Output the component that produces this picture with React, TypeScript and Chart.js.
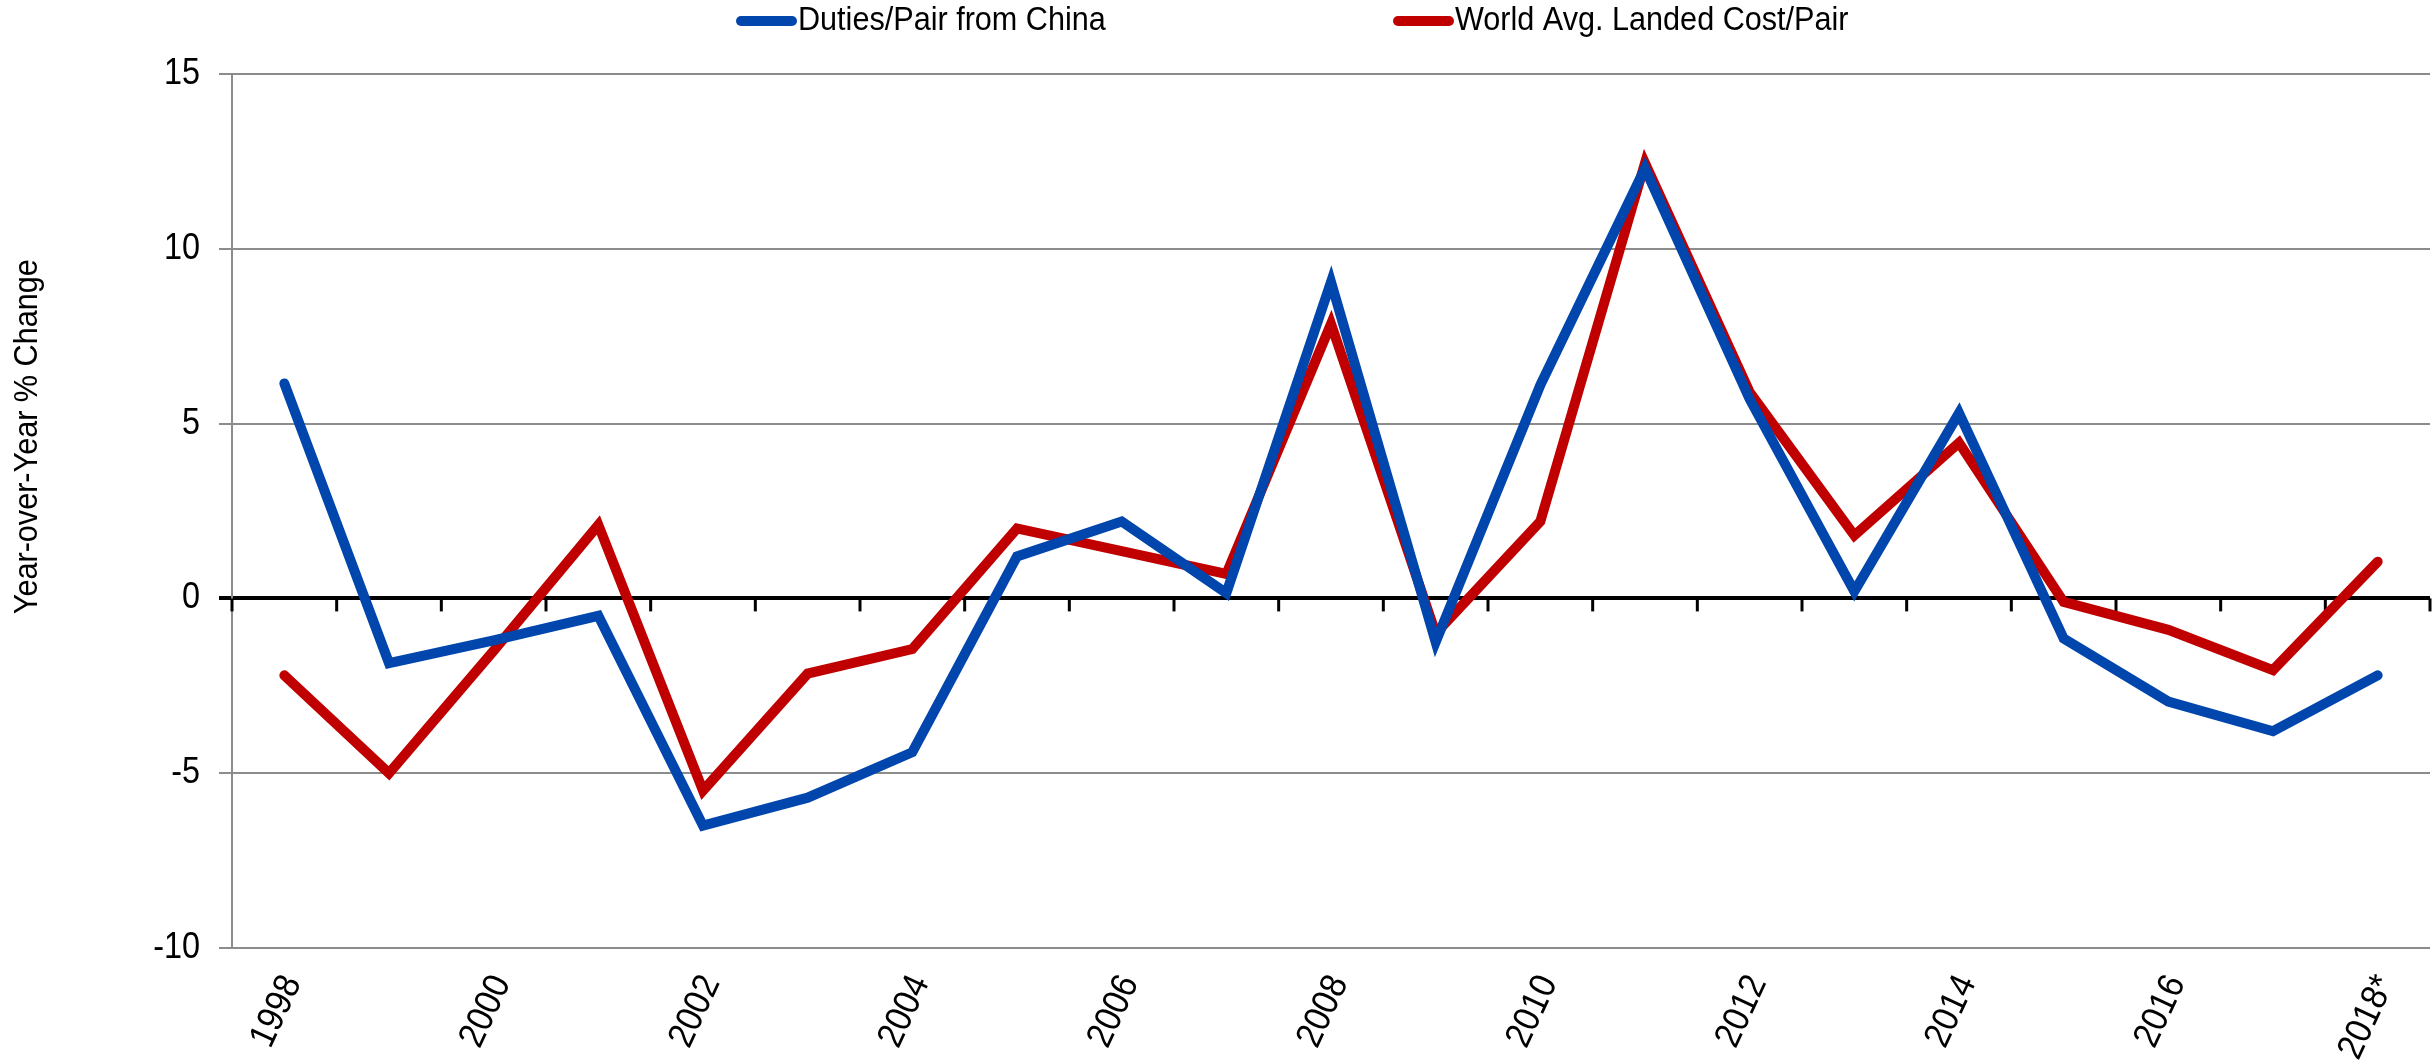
import React, { useEffect, useRef } from 'react';
import { Chart, registerables } from 'chart.js';

Chart.register(...registerables);

const years = ['1998', '1999', '2000', '2001', '2002', '2003', '2004', '2005', '2006', '2007', '2008', '2009', '2010', '2011', '2012', '2013', '2014', '2015', '2016', '2017', '2018*'];
const dutiesChina = [6.15, -1.85, -1.2, -0.5, -6.5, -5.7, -4.4, 1.2, 2.2, 0.15, 9.05, -1.25, 6.1, 12.3, 5.7, 0.2, 5.3, -1.15, -2.95, -3.8, -2.2];
const worldLanded = [-2.2, -5.0, -1.5, 2.1, -5.5, -2.15, -1.45, 2.0, 1.35, 0.7, 7.85, -1.0, 2.2, 12.45, 5.9, 1.8, 4.45, -0.1, -0.9, -2.05, 1.05];
const yTicks = [-10, -5, 0, 5, 10, 15];
const seriesNames = ['Duties/Pair from China', 'World Avg. Landed Cost/Pair'];
const seriesColors = ['#0046AD', '#C00000'];
const yTitle = 'Year-over-Year % Change';

const FONT = "'Liberation Sans', Arial, Helvetica, sans-serif";
const SQUEEZE = 0.9;

function drawText(ctx: CanvasRenderingContext2D, text: string, x: number, y: number, size: number, align: CanvasTextAlign, baseline: CanvasTextBaseline, angle: number) {
  ctx.save();
  ctx.translate(x, y);
  ctx.rotate(angle);
  ctx.scale(SQUEEZE, 1);
  ctx.font = `${size}px ${FONT}`;
  ctx.fillStyle = '#000';
  ctx.textAlign = align;
  ctx.textBaseline = baseline;
  ctx.fillText(text, 0, 0);
  ctx.restore();
}

const zeroTicksPlugin = {
  id: 'zeroTicks',
  beforeDatasetsDraw(chart: any) {
    const { ctx, scales } = chart;
    const x = scales.x;
    const y = scales.y;
    const y0 = y.getPixelForValue(0);
    ctx.save();
    ctx.strokeStyle = '#000';
    ctx.lineWidth = 3;
    for (let i = 0; i <= years.length; i++) {
      const px = x.getPixelForValue(i - 0.5);
      ctx.beginPath();
      ctx.moveTo(px, y0);
      ctx.lineTo(px, y0 + 13);
      ctx.stroke();
    }
    ctx.restore();
  },
};

const textPlugin = {
  id: 'texts',
  afterDraw(chart: any) {
    const { ctx, chartArea, scales } = chart;
    const x = scales.x;
    const y = scales.y;
    // legend
    const cy = 21;
    const symStarts = [736, 1393];
    seriesNames.forEach((name, i) => {
      const sx = symStarts[i];
      ctx.save();
      ctx.strokeStyle = seriesColors[i];
      ctx.lineWidth = 10;
      ctx.lineCap = 'round';
      ctx.beginPath();
      ctx.moveTo(sx + 5, cy);
      ctx.lineTo(sx + 56, cy);
      ctx.stroke();
      ctx.restore();
      drawText(ctx, name, sx + 62, cy, 34, 'left', 'middle', 0);
    });
    // y tick labels
    yTicks.forEach((v) => {
      drawText(ctx, String(v), chartArea.left - 32, y.getPixelForValue(v), 36, 'right', 'middle', 0);
    });
    // x tick labels
    years.forEach((lab, i) => {
      if (i % 2 !== 0) return;
      const cx = x.getPixelForValue(i);
      drawText(ctx, lab, cx + 8, chartArea.bottom + 30, 37, 'right', 'middle', -65 * Math.PI / 180);
    });
    // y title
    const ty = chartArea.top + (chartArea.bottom - chartArea.top) * 0.415;
    drawText(ctx, yTitle, 28, ty, 34, 'center', 'middle', -Math.PI / 2);
  },
};

export default function App() {
  const canvasRef = useRef<HTMLCanvasElement | null>(null);

  useEffect(() => {
    if (!canvasRef.current) return;
    const chart = new Chart(canvasRef.current, {
      type: 'line',
      data: {
        labels: years,
        datasets: [
          {
            label: seriesNames[0],
            data: dutiesChina,
            borderColor: seriesColors[0],
            backgroundColor: seriesColors[0],
            borderWidth: 10,
            pointRadius: 0,
            tension: 0,
            borderCapStyle: 'round',
            borderJoinStyle: 'miter',
            fill: false,
          },
          {
            label: seriesNames[1],
            data: worldLanded,
            borderColor: seriesColors[1],
            backgroundColor: seriesColors[1],
            borderWidth: 10,
            pointRadius: 0,
            tension: 0,
            borderCapStyle: 'round',
            borderJoinStyle: 'miter',
            fill: false,
          },
        ],
      },
      options: {
        animation: false,
        responsive: true,
        maintainAspectRatio: false,
        layout: { padding: { top: 74, right: 2, left: 0, bottom: 0 } },
        plugins: {
          legend: { display: false },
          tooltip: { enabled: false },
        },
        scales: {
          x: {
            type: 'category',
            offset: true,
            grid: { display: false, offset: true },
            border: { display: false },
            afterFit: (s: any) => { s.height = 114; },
            ticks: { display: false, autoSkip: false },
          },
          y: {
            min: -10,
            max: 15,
            afterFit: (s: any) => { s.width = 232; },
            border: { display: true, color: '#8c8c8c', width: 2 },
            grid: {
              color: (c: any) => (c.tick && c.tick.value === 0 ? '#000' : '#8c8c8c'),
              lineWidth: (c: any) => (c.tick && c.tick.value === 0 ? 4 : 2),
              tickLength: 13,
              drawTicks: true,
            },
            ticks: { display: false, stepSize: 5 },
          },
        },
      },
      plugins: [zeroTicksPlugin, textPlugin],
    } as any);
    return () => chart.destroy();
  }, []);

  return (
    <div style={{ position: 'fixed', left: 0, top: 0, width: '100vw', height: '100vh', background: '#fff' }}>
      <canvas ref={canvasRef} style={{ display: 'block' }} />
    </div>
  );
}
